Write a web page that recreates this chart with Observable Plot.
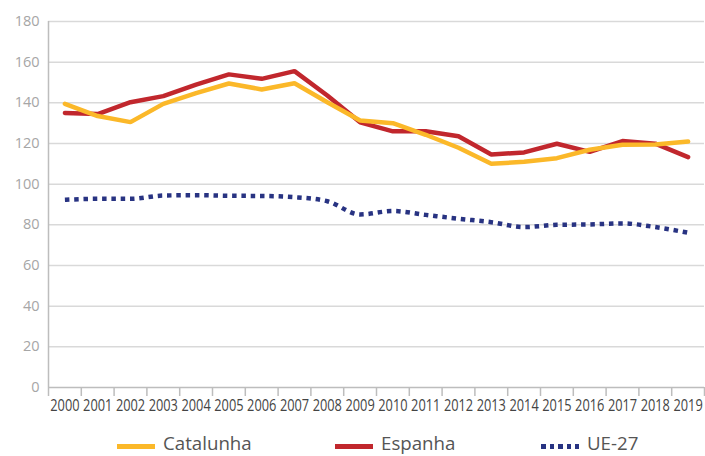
<!DOCTYPE html>
<html>
<head>
<meta charset="utf-8">
<script src="https://cdn.jsdelivr.net/npm/d3@7"></script>
<script src="https://cdn.jsdelivr.net/npm/@observablehq/plot@0.6"></script>
<style>
  html, body { margin: 0; padding: 0; background: #fff; }
  #wrap { position: relative; width: 705px; height: 456px; overflow: hidden; font-family: "Open Sans", sans-serif; }
  #legend { position: absolute; left: 0; top: 433px; width: 705px; height: 20px; }
  .item { position: absolute; top: 0; display: flex; align-items: center; height: 20px; }
  .sw { width: 38px; height: 5px; margin-right: 8px; position: relative; top: 3px; }
  .lab { font-size: 18.7px; color: #555; line-height: 20px; }
</style>
</head>
<body>
<div id="wrap">
  <div id="chart"></div>
  <div id="legend"></div>
</div>
<script>
const years = [2000,2001,2002,2003,2004,2005,2006,2007,2008,2009,2010,2011,2012,2013,2014,2015,2016,2017,2018,2019];
const catalunha = [139.5,133.5,130.5,139.5,144.8,149.5,146.6,149.6,140.3,131.3,130,124.3,117.9,110,111,112.8,116.9,119.4,119.5,121];
const espanha   = [135,134.5,140.3,143.3,149,154,151.8,155.6,143.6,130.4,126,126,123.6,114.6,115.6,119.9,115.9,121.2,119.9,113.3];
const ue27      = [92.3,92.8,92.8,94.4,94.6,94.3,94.2,93.6,91.6,85.1,86.8,84.9,83,81.3,78.9,80,80.2,80.7,78.9,76.1];
const seriesNames = ["Catalunha", "Espanha", "UE-27"];
const yTicks = [0,20,40,60,80,100,120,140,160,180];

const colors = {"Catalunha": "#FBB829", "Espanha": "#C1272D", "UE-27": "#283382"};

const rows = (name, vals) => years.map((y, i) => ({year: y, value: vals[i], series: name}));
const cat = rows("Catalunha", catalunha);
const esp = rows("Espanha", espanha);
const ue = rows("UE-27", ue27);

const bounds = [...years.map(y => y - 0.5), years[years.length - 1] + 0.5];

const plot = Plot.plot({
  width: 705,
  height: 425,
  marginTop: 21,
  marginBottom: 38,
  marginLeft: 48,
  marginRight: 1,
  style: {background: "white", overflow: "visible"},
  x: {domain: [years[0] - 0.5, years[years.length - 1] + 0.5]},
  y: {domain: [0, 180]},
  marks: [
    Plot.gridY(yTicks.filter(d => d > 0), {stroke: "#d9d9d9", strokeOpacity: 1, strokeWidth: 1.5}),
    Plot.axisY({ticks: yTicks, tickSize: 0, tickPadding: 9, fontSize: 14.5, fill: "#a6a6a6", fontFamily: "Open Sans", label: null, tickFormat: d => String(d)}),
    Plot.ruleX([bounds[0]], {y1: 0, y2: 180, stroke: "#bdbdbd", strokeWidth: 1.5}),
    Plot.ruleY([0], {stroke: "#bdbdbd", strokeWidth: 1.5}),
    Plot.axisX({ticks: bounds, tickSize: 9, stroke: "#bdbdbd", strokeWidth: 1.5, tickFormat: () => "", label: null}),
    Plot.axisX({ticks: years, tickSize: 0, tickPadding: 12, tickFormat: d => String(d), fontSize: 16, fill: "#444", fontFamily: "Open Sans", label: null}),
    Plot.line(esp, {x: "year", y: "value", stroke: colors["Espanha"], strokeWidth: 4.5, strokeLinejoin: "miter"}),
    Plot.line(cat, {x: "year", y: "value", stroke: colors["Catalunha"], strokeWidth: 4.5, strokeLinejoin: "miter"}),
    Plot.line(ue, {x: "year", y: "value", stroke: colors["UE-27"], strokeWidth: 4.5, strokeDasharray: "4.5 4.8", strokeLinecap: "butt", curve: "monotone-x"})
  ]
});
// condense the year labels horizontally (the reference uses a narrow face)
d3.select(plot).selectAll("text").each(function() {
  if (/^\d{4}$/.test(this.textContent)) {
    const t = this.getAttribute("transform");
    if (t) {
      this.setAttribute("transform", t + " scale(0.8,1)");
    } else {
      const x = +(this.getAttribute("x") || 0), y = +(this.getAttribute("y") || 0);
      this.removeAttribute("x"); this.removeAttribute("y");
      this.setAttribute("transform", `translate(${x},${y}) scale(0.8,1)`);
    }
  }
});
document.getElementById("chart").appendChild(plot);

const legendPos = {"Catalunha": 117, "Espanha": 335, "UE-27": 541};
const legend = document.getElementById("legend");
for (const name of seriesNames) {
  const it = document.createElement("div");
  it.className = "item";
  it.style.left = legendPos[name] + "px";
  const sw = document.createElement("div");
  sw.className = "sw";
  if (name === "UE-27") {
    sw.style.backgroundImage = "repeating-linear-gradient(to right, " + colors[name] + " 0 4.5px, transparent 4.5px 8.6px)";
  } else {
    sw.style.background = colors[name];
  }
  const lab = document.createElement("span");
  lab.className = "lab";
  lab.textContent = name;
  it.appendChild(sw);
  it.appendChild(lab);
  legend.appendChild(it);
}
</script>
</body>
</html>
